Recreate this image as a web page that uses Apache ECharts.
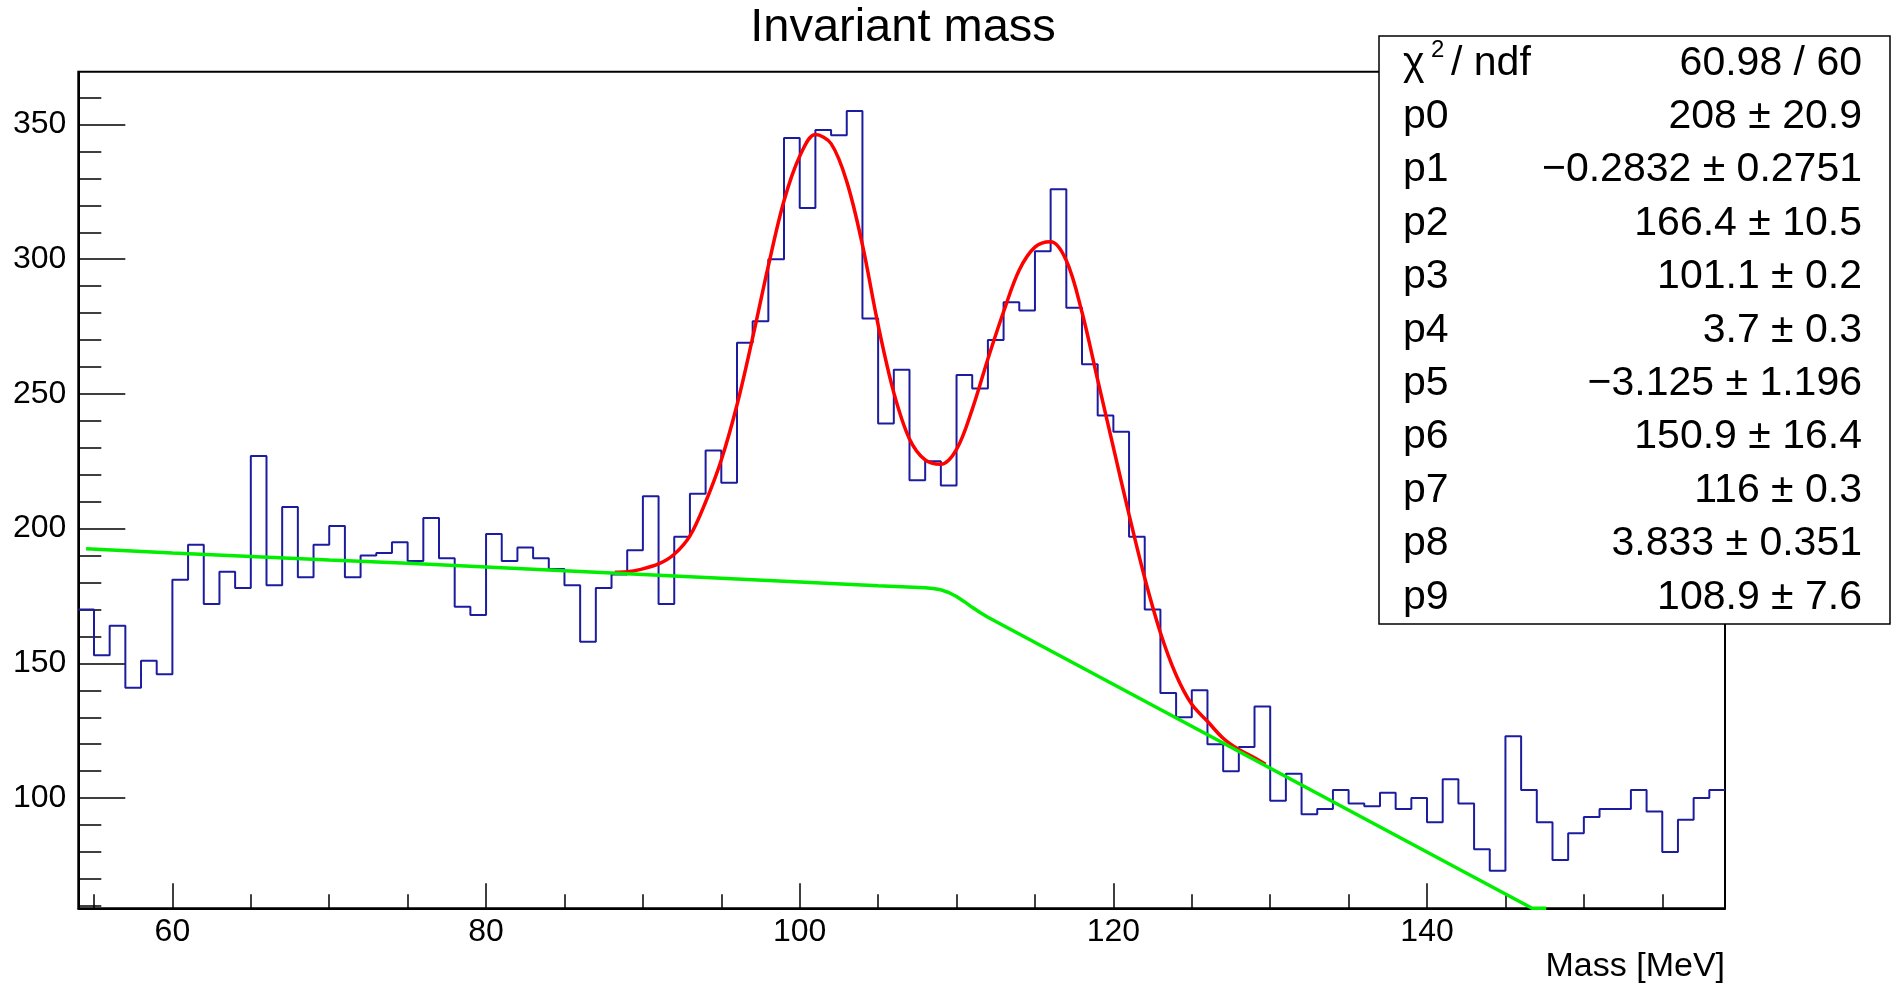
<!DOCTYPE html>
<html>
<head>
<meta charset="utf-8">
<script src="https://cdn.jsdelivr.net/npm/echarts@6/dist/echarts.min.js"></script>
<style>
html,body{margin:0;padding:0;background:#fff;}
#chart{width:1895px;height:994px;}
</style>
</head>
<body>
<div id="chart"></div>
<script>
// ---- Data ----
const binLow = 54;
const binWidth = 1;
const counts = [
  170,153,164,141,151,146,181,194,172,184,178,227,179,208,182,194,201,182,190,191,
  195,188,204,189,171,168,198,188,193,189,185,179,158,178,183,192,212,172,197,213,
  229,217,269,277,300,345,319,348,346,355,278,239,259,218,225,216,257,252,270,284,
  281,303,326,282,261,242,236,197,170,139,130,140,120,110,119,134,99,109,94,96,
  103,98,97,102,96,100,91,107,98,81,73,123,103,91,77,87,93,96,96,103,
  95,80,92,100,103
];
const fitX = [88.2,89,89.8,91,92,93,94,95,96,97,98,99,100,101,102,103,104,105,106,107,108,109,110,111,112,113,114,115,116,117,118,119,120,121,122,123,124,125,126,127,128,129,129.7];
const fitY = [183.8,184.0,184.8,186.9,190.5,197.3,209.9,225.5,245.9,270.9,297.5,321.7,338.2,346.3,342.9,328.8,305.3,275.6,250.5,233.3,225.5,223.9,229.4,244.3,263.0,280.5,296.0,304.5,306.5,299.5,280.3,255.2,230.2,205.2,181.7,161.4,145.7,134.8,128.5,122.2,118.0,115.0,112.6];
const bgX = [54.5,60,65,70,75,80,85,90,95,100,105,108,108.5,109,109.5,110,110.5,111,111.5,112,146.7,147.6];
const bgY = [192.5,191.0,189.7,188.4,187.2,185.8,184.4,183.0,181.6,180.2,178.8,178.1,177.8,177.3,176.3,174.8,172.9,170.8,168.9,167.1,59.1,59.1];
const xMajorTicks = [60,80,100,120,140];
const xMinorTicks = [55,65,70,75,85,90,95,105,110,115,125,130,135,145,150,155];
const yMajorTicks = [100,150,200,250,300,350];
const yMinorTicks = [60,70,80,90,110,120,130,140,160,170,180,190,210,220,230,240,260,270,280,290,310,320,330,340,360];
const statLabels = ['p0','p1','p2','p3','p4','p5','p6','p7','p8','p9'];
const statValues = ['60.98 / 60','208 \u00b1 20.9','\u22120.2832 \u00b1 0.2751','166.4 \u00b1 10.5','101.1 \u00b1 0.2','3.7 \u00b1 0.3','\u22123.125 \u00b1 1.196','150.9 \u00b1 16.4','116 \u00b1 0.3','3.833 \u00b1 0.351','108.9 \u00b1 7.6'];
const titleText = 'Invariant mass';
const xTitle = 'Mass [MeV]';

// ---- Build ----
const FONT = '"Liberation Sans", Arial, Helvetica, sans-serif';
const histData = counts.map((c, i) => [binLow + i * binWidth, c]);
histData.push([binLow + counts.length * binWidth, counts[counts.length - 1]]);
const fitData = fitX.map((x, i) => [x, fitY[i]]);
const bgData = bgX.map((x, i) => [x, bgY[i]]);

const X0 = 78.3, X1 = 1725, Y0 = 71.7, Y1 = 908.3;
const W = 1895, H = 994;

const chart = echarts.init(document.getElementById('chart'), null, {renderer: 'canvas', width: W, height: H});

function xAxisDef(ticks, len, labels) {
  return {
    type: 'value', min: 54, max: 159, position: 'bottom',
    axisLine: {show: labels, onZero: false, lineStyle: {color: '#000', width: 2}},
    axisTick: {show: true, inside: true, length: len, customValues: ticks, lineStyle: {color: '#000', width: 1.5}},
    axisLabel: {show: labels, customValues: ticks, margin: 8, color: '#000', fontSize: 32, fontFamily: FONT},
    splitLine: {show: false}
  };
}
function yAxisDef(ticks, len, labels) {
  return {
    type: 'value', min: 59.1, max: 369.6, position: 'left',
    axisLine: {show: labels, onZero: false, lineStyle: {color: '#000', width: 2}},
    axisTick: {show: true, inside: true, length: len, customValues: ticks, lineStyle: {color: '#000', width: 1.5}},
    axisLabel: {show: labels, customValues: ticks, margin: 12, color: '#000', fontSize: 32, fontFamily: FONT},
    splitLine: {show: false}
  };
}

const graphics = [];
// title
graphics.push({type: 'text', x: 903, y: 28, z: 100, style: {text: titleText, font: '47px ' + FONT, fill: '#000', textAlign: 'center', textVerticalAlign: 'middle'}});
// x axis title
graphics.push({type: 'text', x: X1, y: 967, z: 100, style: {text: xTitle, font: '34px ' + FONT, fill: '#000', textAlign: 'right', textVerticalAlign: 'middle'}});
// stats box
graphics.push({type: 'rect', z: 100, shape: {x: 1379, y: 36, width: 511, height: 588}, style: {fill: '#fff', stroke: '#000', lineWidth: 1.5}});
const rowMid0 = 63.2, rowStep = 53.4;
const SF = '41px ' + FONT;
// chi2 label
graphics.push({type: 'text', z: 101, x: 1403, y: rowMid0, style: {text: '\u03c7', font: SF, fill: '#000', textAlign: 'left', textVerticalAlign: 'middle'}});
graphics.push({type: 'text', z: 101, x: 1431, y: rowMid0 - 13, style: {text: '2', font: '24px ' + FONT, fill: '#000', textAlign: 'left', textVerticalAlign: 'middle'}});
graphics.push({type: 'text', z: 101, x: 1451, y: rowMid0, style: {text: '/ ndf', font: SF, fill: '#000', textAlign: 'left', textVerticalAlign: 'middle'}});
statLabels.forEach((t, i) => {
  graphics.push({type: 'text', z: 101, x: 1403, y: rowMid0 + rowStep * (i + 1), style: {text: t, font: SF, fill: '#000', textAlign: 'left', textVerticalAlign: 'middle'}});
});
statValues.forEach((t, i) => {
  graphics.push({type: 'text', z: 101, x: 1862, y: rowMid0 + rowStep * i, style: {text: t, font: SF, fill: '#000', textAlign: 'right', textVerticalAlign: 'middle'}});
});

chart.setOption({
  animation: false,
  backgroundColor: '#fff',
  grid: {left: X0, right: W - X1, top: Y0, bottom: H - Y1, containLabel: false, outerBoundsMode: 'none', show: true, borderColor: '#000', borderWidth: 2, backgroundColor: 'transparent'},
  xAxis: [xAxisDef(xMajorTicks, 25, true), xAxisDef(xMinorTicks, 14, false)],
  yAxis: [yAxisDef(yMajorTicks, 47, true), yAxisDef(yMinorTicks, 23, false)],
  series: [
    {type: 'line', xAxisIndex: 0, yAxisIndex: 0, data: histData, step: 'end', showSymbol: false, symbol: 'none', clip: true,
     lineStyle: {color: '#1c1ca0', width: 2}, z: 2},
    {type: 'line', xAxisIndex: 0, yAxisIndex: 0, data: fitData, smooth: 0.35, showSymbol: false, symbol: 'none', clip: true,
     lineStyle: {color: '#ff0000', width: 3.5}, z: 3},
    {type: 'line', xAxisIndex: 0, yAxisIndex: 0, data: bgData, smooth: false, showSymbol: false, symbol: 'none', clip: true,
     lineStyle: {color: '#00ee00', width: 3.5}, z: 4}
  ],
  graphic: graphics
});
</script>
</body>
</html>
